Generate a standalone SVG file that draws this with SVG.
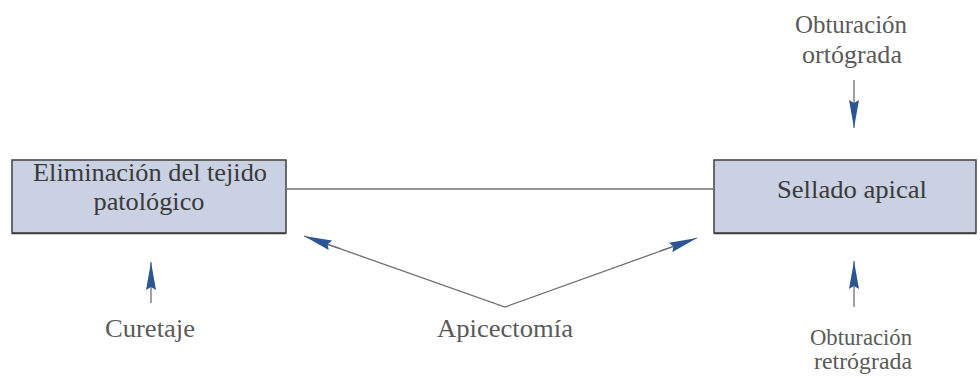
<svg xmlns="http://www.w3.org/2000/svg" width="980" height="381" viewBox="0 0 980 381">
<style>
.box{fill:#c9d1e2;stroke:#4a4a4a;stroke-width:1.6}
.edge{stroke:#3a3a3a;stroke-width:1.6}
.t{fill:#5a5a5a}
.tb{fill:#3a3a3a}
.ln{stroke:#707070;stroke-width:1.3;fill:none}
</style>
<defs>
<marker id="ahL" viewBox="0 0 28 10" refX="28" refY="5" markerWidth="28" markerHeight="10" markerUnits="userSpaceOnUse" orient="auto">
<path d="M0,0 L28,5 L0,10 L3,5 Z" fill="#2c5693"/>
</marker>
</defs>
<g font-family="Liberation Serif, Times New Roman, serif" font-size="25" text-anchor="middle">
<g id="node-eliminacion">
<rect class="box" x="12" y="160" width="274" height="73"/>
<line class="edge" x1="12" y1="233.5" x2="286" y2="233.5"/>
<text class="tb" x="150" y="181" textLength="234" lengthAdjust="spacingAndGlyphs">Eliminación del tejido</text>
<text class="tb" x="149" y="210" textLength="111" lengthAdjust="spacingAndGlyphs">patológico</text>
</g>
<g id="node-sellado">
<rect class="box" x="714" y="160" width="262" height="73"/>
<line class="edge" x1="714" y1="233.5" x2="976" y2="233.5"/>
<text class="tb" x="852" y="198" textLength="150" lengthAdjust="spacingAndGlyphs">Sellado apical</text>
</g>
<g id="label-obt-orto">
<text class="t" x="851" y="33" textLength="112" lengthAdjust="spacingAndGlyphs">Obturación</text>
<text class="t" x="852" y="63" textLength="100" lengthAdjust="spacingAndGlyphs">ortógrada</text>
</g>
<g id="label-curetaje">
<text class="t" x="150" y="337" textLength="90" lengthAdjust="spacingAndGlyphs">Curetaje</text>
</g>
<g id="label-apicectomia">
<text class="t" x="505" y="337" textLength="136" lengthAdjust="spacingAndGlyphs">Apicectomía</text>
</g>
<g id="label-obt-retro" font-size="24">
<text class="t" x="861" y="345" textLength="102" lengthAdjust="spacingAndGlyphs">Obturación</text>
<text class="t" x="863" y="369" textLength="98" lengthAdjust="spacingAndGlyphs">retrógrada</text>
</g>
</g>
<g id="connectors">
<line class="ln" x1="286" y1="189" x2="714" y2="189"/>
<line class="ln" x1="854" y1="80" x2="854" y2="128" marker-end="url(#ahL)"/>
<line class="ln" x1="151" y1="303" x2="151" y2="262" marker-end="url(#ahL)"/>
<line class="ln" x1="854" y1="307" x2="854" y2="261" marker-end="url(#ahL)"/>
<polyline class="ln" points="325,243.4 505,307 676,245.5"/>
<line class="ln" x1="340" y1="248.7" x2="304" y2="236" marker-end="url(#ahL)"/>
<line class="ln" x1="660" y1="251.2" x2="697" y2="238" marker-end="url(#ahL)"/>
</g>
</svg>
